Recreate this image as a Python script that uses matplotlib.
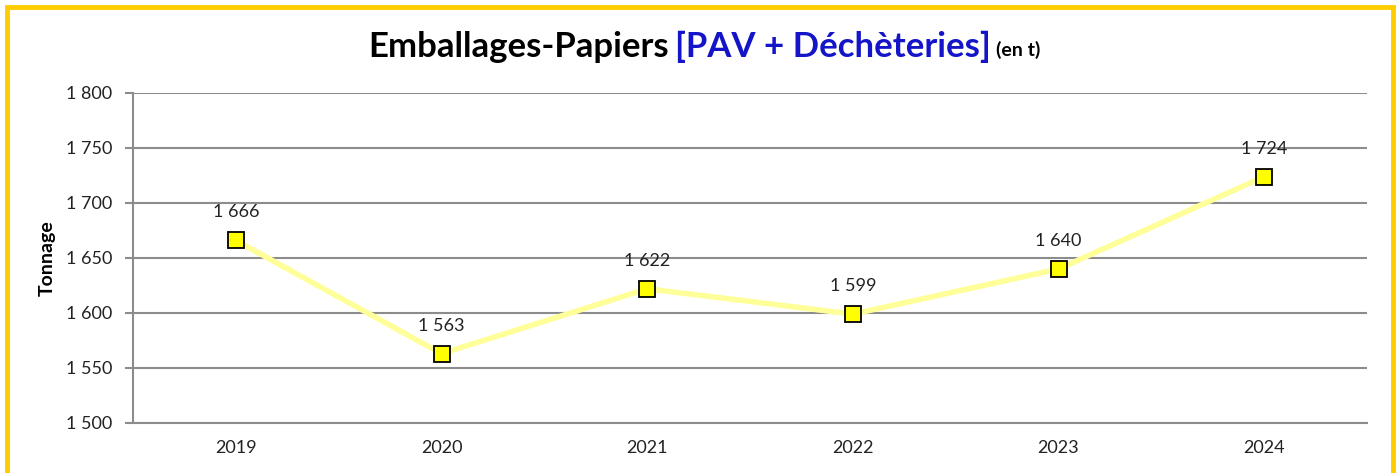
import matplotlib.pyplot as plt
from matplotlib.patches import Rectangle

years = ['2019', '2020', '2021', '2022', '2023', '2024']
tonnage = [1666, 1563, 1622, 1599, 1640, 1724]
yticks = [1500, 1550, 1600, 1650, 1700, 1750, 1800]

def fmt(v):
    return '{:,}'.format(v).replace(',', ' ')

plt.rcParams['font.family'] = ['Lato', 'DejaVu Sans']

fig = plt.figure(figsize=(13.97, 4.73), dpi=100)
ax = fig.add_axes([133 / 1397, 1 - 423 / 473, 1234 / 1397, 330 / 473])

x = list(range(len(years)))
ax.plot(x, tonnage, color='#ffff99', lw=4, zorder=2)
ax.plot(x, tonnage, ls='none', marker='s', ms=11, mfc='#ffff00', mec='black', mew=1.3, zorder=3)
for xi, v in zip(x, tonnage):
    ax.annotate(fmt(v), (xi, v), xytext=(0, 20), textcoords='offset pixels',
                ha='center', va='bottom', fontsize=13, color='#222222')

ax.set_xlim(-0.5, len(years) - 0.5)
ax.set_ylim(1500, 1800)
ax.set_yticks(yticks)
ax.set_yticklabels([fmt(t) for t in yticks], fontsize=13, color='#222222')
ax.set_xticks(x)
ax.set_xticklabels(years, fontsize=13, color='#222222')
ax.tick_params(axis='x', length=0, pad=12)
ax.tick_params(axis='y', length=6, width=1.5, color='#8c8c8c', pad=9)
ax.grid(axis='y', color='#8c8c8c', lw=1.5)
ax.set_axisbelow(True)
for s in ['top', 'right']:
    ax.spines[s].set_visible(False)
for s in ['left', 'bottom']:
    ax.spines[s].set_color('#8c8c8c')
    ax.spines[s].set_linewidth(1.5)
ax.set_ylabel('Tonnage', fontsize=14, fontweight='bold', labelpad=7)

# title built from three pieces
fig.canvas.draw()
r = fig.canvas.get_renderer()
ty = 1 - 47 / 473
t1 = fig.text(368 / 1397, ty, 'Emballages-Papiers', fontsize=25, fontweight='bold',
              color='black', va='center', ha='left')
bb = t1.get_window_extent(r)
t2 = fig.text((bb.x1 + 6) / 1397, ty, '[PAV + Déchèteries]', fontsize=25, fontweight='bold',
              color='#1414c8', va='center', ha='left')
bb = t2.get_window_extent(r)
fig.text((bb.x1 + 6) / 1397, ty - 0.006, '(en t)', fontsize=14, fontweight='bold',
         color='black', va='center', ha='left')

fig.patches.append(Rectangle((7 / 1397, -0.05), 1386 / 1397, 1.05 - 7 / 473,
                             transform=fig.transFigure, fill=False,
                             edgecolor='#ffcc00', lw=3.5))

fig.savefig('out.png', dpi=100)
